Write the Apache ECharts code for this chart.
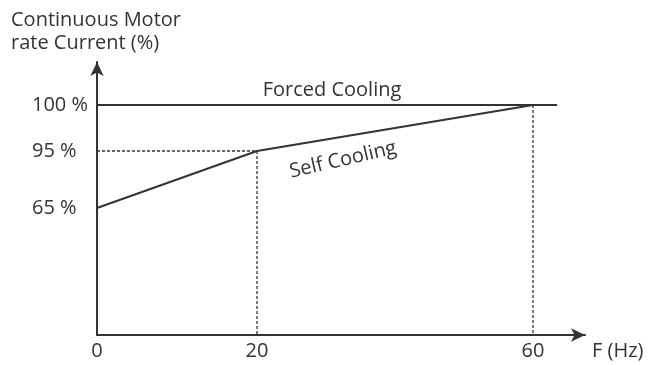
<!DOCTYPE html>
<html>
<head>
<meta charset="utf-8">
<script src="https://cdn.jsdelivr.net/npm/echarts@6/dist/echarts.min.js"></script>
<style>html,body{margin:0;padding:0;background:#fff}#c{width:648px;height:365px}</style>
</head>
<body>
<div id="c"></div>
<script>
// ---- data ----
const xTicks = [0, 20, 60];
const xTickLabels = ['0', '20', '60'];
const yTicks = [65, 95, 100];
const yTickLabels = ['65 %', '95 %', '100 %'];
const selfF = [0, 20, 60];
const selfI = [65, 95, 100];
const forcedF = [0, 63.5];
const forcedI = [100, 100];
const guide95F = [0, 20, 20];
const guide95I = [95, 95, 0];
const guide100F = [60, 60];
const guide100I = [100, 0];

// ---- schematic (non-linear) axis scale ----
const xKnots = [[0, 0], [20, 160], [60, 436]];
const yKnots = [[0, 0], [65, 127], [95, 184], [100, 230]];
function piece(knots, v) {
  for (let i = 1; i < knots.length; i++) {
    if (v <= knots[i][0] || i === knots.length - 1) {
      const a = knots[i - 1], b = knots[i];
      return a[1] + (v - a[0]) * (b[1] - a[1]) / (b[0] - a[0]);
    }
  }
}
const fx = v => piece(xKnots, v);
const fy = v => piece(yKnots, v);
const pts = (xs, ys) => xs.map((x, i) => [fx(x), fy(ys[i])]);

const FONT = 'Open Sans';
const FS = 20;
const COL = '#333';
const chart = echarts.init(document.getElementById('c'));
const lineStyleSolid = { color: COL, width: 2 };
const lineStyleDash = { color: COL, width: 1.3, type: [3, 2] };
const mk = (data, ls) => ({ type: 'line', data, symbol: 'none', lineStyle: ls, silent: true, animation: false });

chart.setOption({
  animation: false,
  grid: { left: 97, right: 63, top: 62, bottom: 30 },
  xAxis: {
    type: 'value', min: 0, max: 488,
    splitLine: { show: false },
    axisTick: { show: false },
    axisLine: { lineStyle: { color: COL, width: 2 }, symbol: ['none', 'arrow'], symbolSize: [10, 14] },
    axisLabel: {
      customValues: xTicks.map(fx),
      formatter: v => xTickLabels[xTicks.findIndex(t => Math.abs(fx(t) - v) < 0.5)] || '',
      color: COL, fontFamily: FONT, fontSize: FS, margin: 6
    }
  },
  yAxis: {
    type: 'value', min: 0, max: 273,
    splitLine: { show: false },
    axisTick: { show: false },
    axisLine: { lineStyle: { color: COL, width: 2 }, symbol: ['none', 'arrow'], symbolSize: [10, 14] },
    axisLabel: {
      customValues: yTicks.map(fy),
      formatter: v => yTickLabels[yTicks.findIndex(t => Math.abs(fy(t) - v) < 0.5)] || '',
      color: COL, fontFamily: FONT, fontSize: FS, align: 'left', margin: 65
    }
  },
  series: [
    mk(pts(forcedF, forcedI), lineStyleSolid),
    mk(pts(selfF, selfI), lineStyleSolid),
    mk(pts(guide95F, guide95I), lineStyleDash),
    mk(pts(guide100F, guide100I), lineStyleDash)
  ],
  graphic: [
    { type: 'text', left: 11, top: 9, style: { text: 'Continuous Motor\nrate Current (%)', fill: COL, font: FS + 'px "Open Sans"', lineHeight: 23 } },
    { type: 'text', x: 592, y: 351, style: { text: 'F (Hz)', fill: COL, font: FS + 'px "Open Sans"', verticalAlign: 'middle' } },
    { type: 'text', x: 332, y: 90, style: { text: 'Forced Cooling', fill: COL, font: FS + 'px "Open Sans"', align: 'center', verticalAlign: 'middle' } },
    { type: 'text', x: 343, y: 160, rotation: 13 * Math.PI / 180, style: { text: 'Self Cooling', fill: COL, font: FS + 'px "Open Sans"', align: 'center', verticalAlign: 'middle' } }
  ]
});
</script>
</body>
</html>
